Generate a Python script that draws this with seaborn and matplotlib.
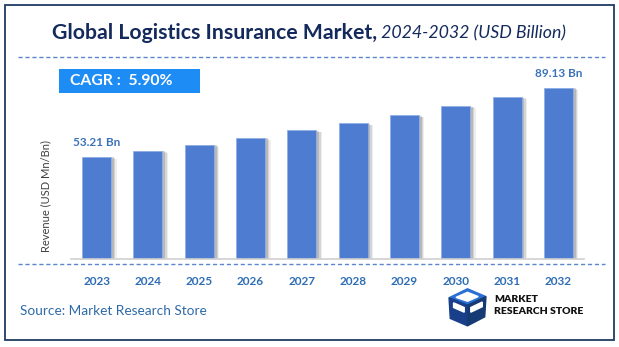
import matplotlib
matplotlib.use("Agg")
import matplotlib.pyplot as plt
import matplotlib.patheffects as pe
from matplotlib.patches import Rectangle, Polygon
from matplotlib.lines import Line2D
import seaborn as sns
import pandas as pd

years = ["2023", "2024", "2025", "2026", "2027", "2028", "2029", "2030", "2031", "2032"]
revenue = [53.21, 56.4, 59.5, 63.1, 67.0, 70.6, 74.7, 79.6, 84.2, 89.13]
first_label = "53.21 Bn"
last_label = "89.13 Bn"
cagr_text = "CAGR :  5.90%"
title_bold = "Global Logistics Insurance Market,"
title_italic = " 2024-2032 (USD Billion)"
y_label = "Revenue (USD Mn/Bn)"
source_text = "Source: Market Research Store"

df = pd.DataFrame({"year": years, "revenue": revenue})

sns.set_theme(style="white")
plt.rcParams['font.family'] = ['Lato', 'DejaVu Sans']

W, H = 619, 347
fig = plt.figure(figsize=(W / 100, H / 100), dpi=100)
fig.patch.set_facecolor("white")

def fx(px):
    return px / W

def fy(py):
    return 1 - py / H

# outer border
fig.patches.append(Rectangle((fx(5), fy(340)), fx(609), 335 / H, transform=fig.transFigure,
                             fill=False, edgecolor="#1f3b63", linewidth=1.3))

# axes
top_px, base_px = 70, 259.3
ax = fig.add_axes([fx(71), fy(base_px), fx(584) - fx(71), (base_px - top_px) / H])
bar_color = "#4d7cd1"
sns.barplot(data=df, x="year", y="revenue", color=bar_color, width=0.565, ax=ax,
            saturation=1, edgecolor="#8fb0e8", linewidth=0.6)
for p in ax.patches:
    p.set_path_effects([
        pe.SimplePatchShadow(offset=(4, -1.5), shadow_rgbFace="#777777", alpha=0.12),
        pe.SimplePatchShadow(offset=(3, -1.0), shadow_rgbFace="#666666", alpha=0.18),
        pe.SimplePatchShadow(offset=(2, -0.5), shadow_rgbFace="#555555", alpha=0.22),
        pe.Normal()])
ax.set_xlim(-0.5, 9.5)
ax.set_ylim(0, (base_px - top_px) * 0.519)
ax.set_yticks([])
ax.set_xlabel("")
ax.set_ylabel("")
for s in ["top", "right", "left"]:
    ax.spines[s].set_visible(False)
ax.spines["bottom"].set_color("#d0d0d0")
ax.spines["bottom"].set_linewidth(1.2)
ax.tick_params(axis="x", length=0, pad=12)
for t in ax.get_xticklabels():
    t.set_color("#2e6db4")
    t.set_fontweight("bold")
    t.set_fontsize(8.5)
ax.set_facecolor("none")

label_color = "#3a72b8"
ax.annotate(first_label, (0, revenue[0]), xytext=(0, 6), textcoords="offset points",
            ha="center", va="bottom", color=label_color, fontweight="bold", fontsize=8.5)
ax.annotate(last_label, (9, revenue[-1]), xytext=(0, 6), textcoords="offset points",
            ha="center", va="bottom", color=label_color, fontweight="bold", fontsize=8.5)

# title
fig.text(fx(377), fy(33), title_bold, ha="right", va="center", fontsize=15.3,
         fontweight="bold", color="#142a5c")
fig.text(fx(377), fy(33), title_italic, ha="left", va="center", fontsize=12.8,
         style="italic", color="#142a5c")

# dashed lines
for yy in (57, 264):
    fig.add_artist(Line2D([fx(18), fx(605)], [fy(yy), fy(yy)], transform=fig.transFigure,
                          color="#5b86cc", linestyle=(0, (3, 2)), linewidth=1.0))

# CAGR box
fig.patches.append(Rectangle((fx(59), fy(93)), fx(141), 24 / H, transform=fig.transFigure,
                             facecolor="#1e8cf5", edgecolor="none"))
fig.text(fx(70), fy(81), cagr_text, ha="left", va="center", fontsize=11.3,
         fontweight="bold", color="white")

# y label
fig.text(fx(46), fy(196), y_label, rotation=90, ha="center", va="center",
         fontsize=8, color="#404040")

# source
fig.text(fx(20), fy(311), source_text, ha="left", va="center", fontsize=9.8,
         color="#2f6aa8")

# logo icon (simple cube)
lax = fig.add_axes([fx(447), fy(327), fx(41), 39 / H])
lax.set_xlim(0, 10)
lax.set_ylim(0, 10)
lax.axis("off")
lax.add_patch(Polygon([[0.5, 7.5], [5, 9.8], [9.5, 7.8], [5, 5.6]], closed=True, color="#2a6fd6"))
lax.add_patch(Polygon([[0.5, 7.5], [5, 5.6], [5, 0.3], [0.8, 2.2]], closed=True, color="#1a3f8a"))
lax.add_patch(Polygon([[5, 5.6], [9.5, 7.8], [9.2, 2.6], [5, 0.3]], closed=True, color="#163a73"))
lax.add_patch(Polygon([[2.2, 7.6], [5, 8.9], [7.6, 7.8], [5, 6.6]], closed=True, color="white"))
lax.add_patch(Polygon([[1.6, 6.2], [4.2, 5.0], [4.2, 3.8], [1.6, 5.0]], closed=True, color="white"))
lax.add_patch(Polygon([[5.8, 5.0], [8.6, 6.4], [8.6, 5.2], [5.8, 3.8]], closed=True, color="white"))

fig.text(fx(494), fy(300), "MARKET", ha="left", va="center", fontsize=7.5,
         fontweight="heavy", color="#111111", stretch="condensed")
fig.text(fx(494), fy(311), "RESEARCH STORE", ha="left", va="center", fontsize=7.5,
         fontweight="heavy", color="#111111", stretch="condensed")

fig.savefig("out.png", dpi=100, facecolor="white")
